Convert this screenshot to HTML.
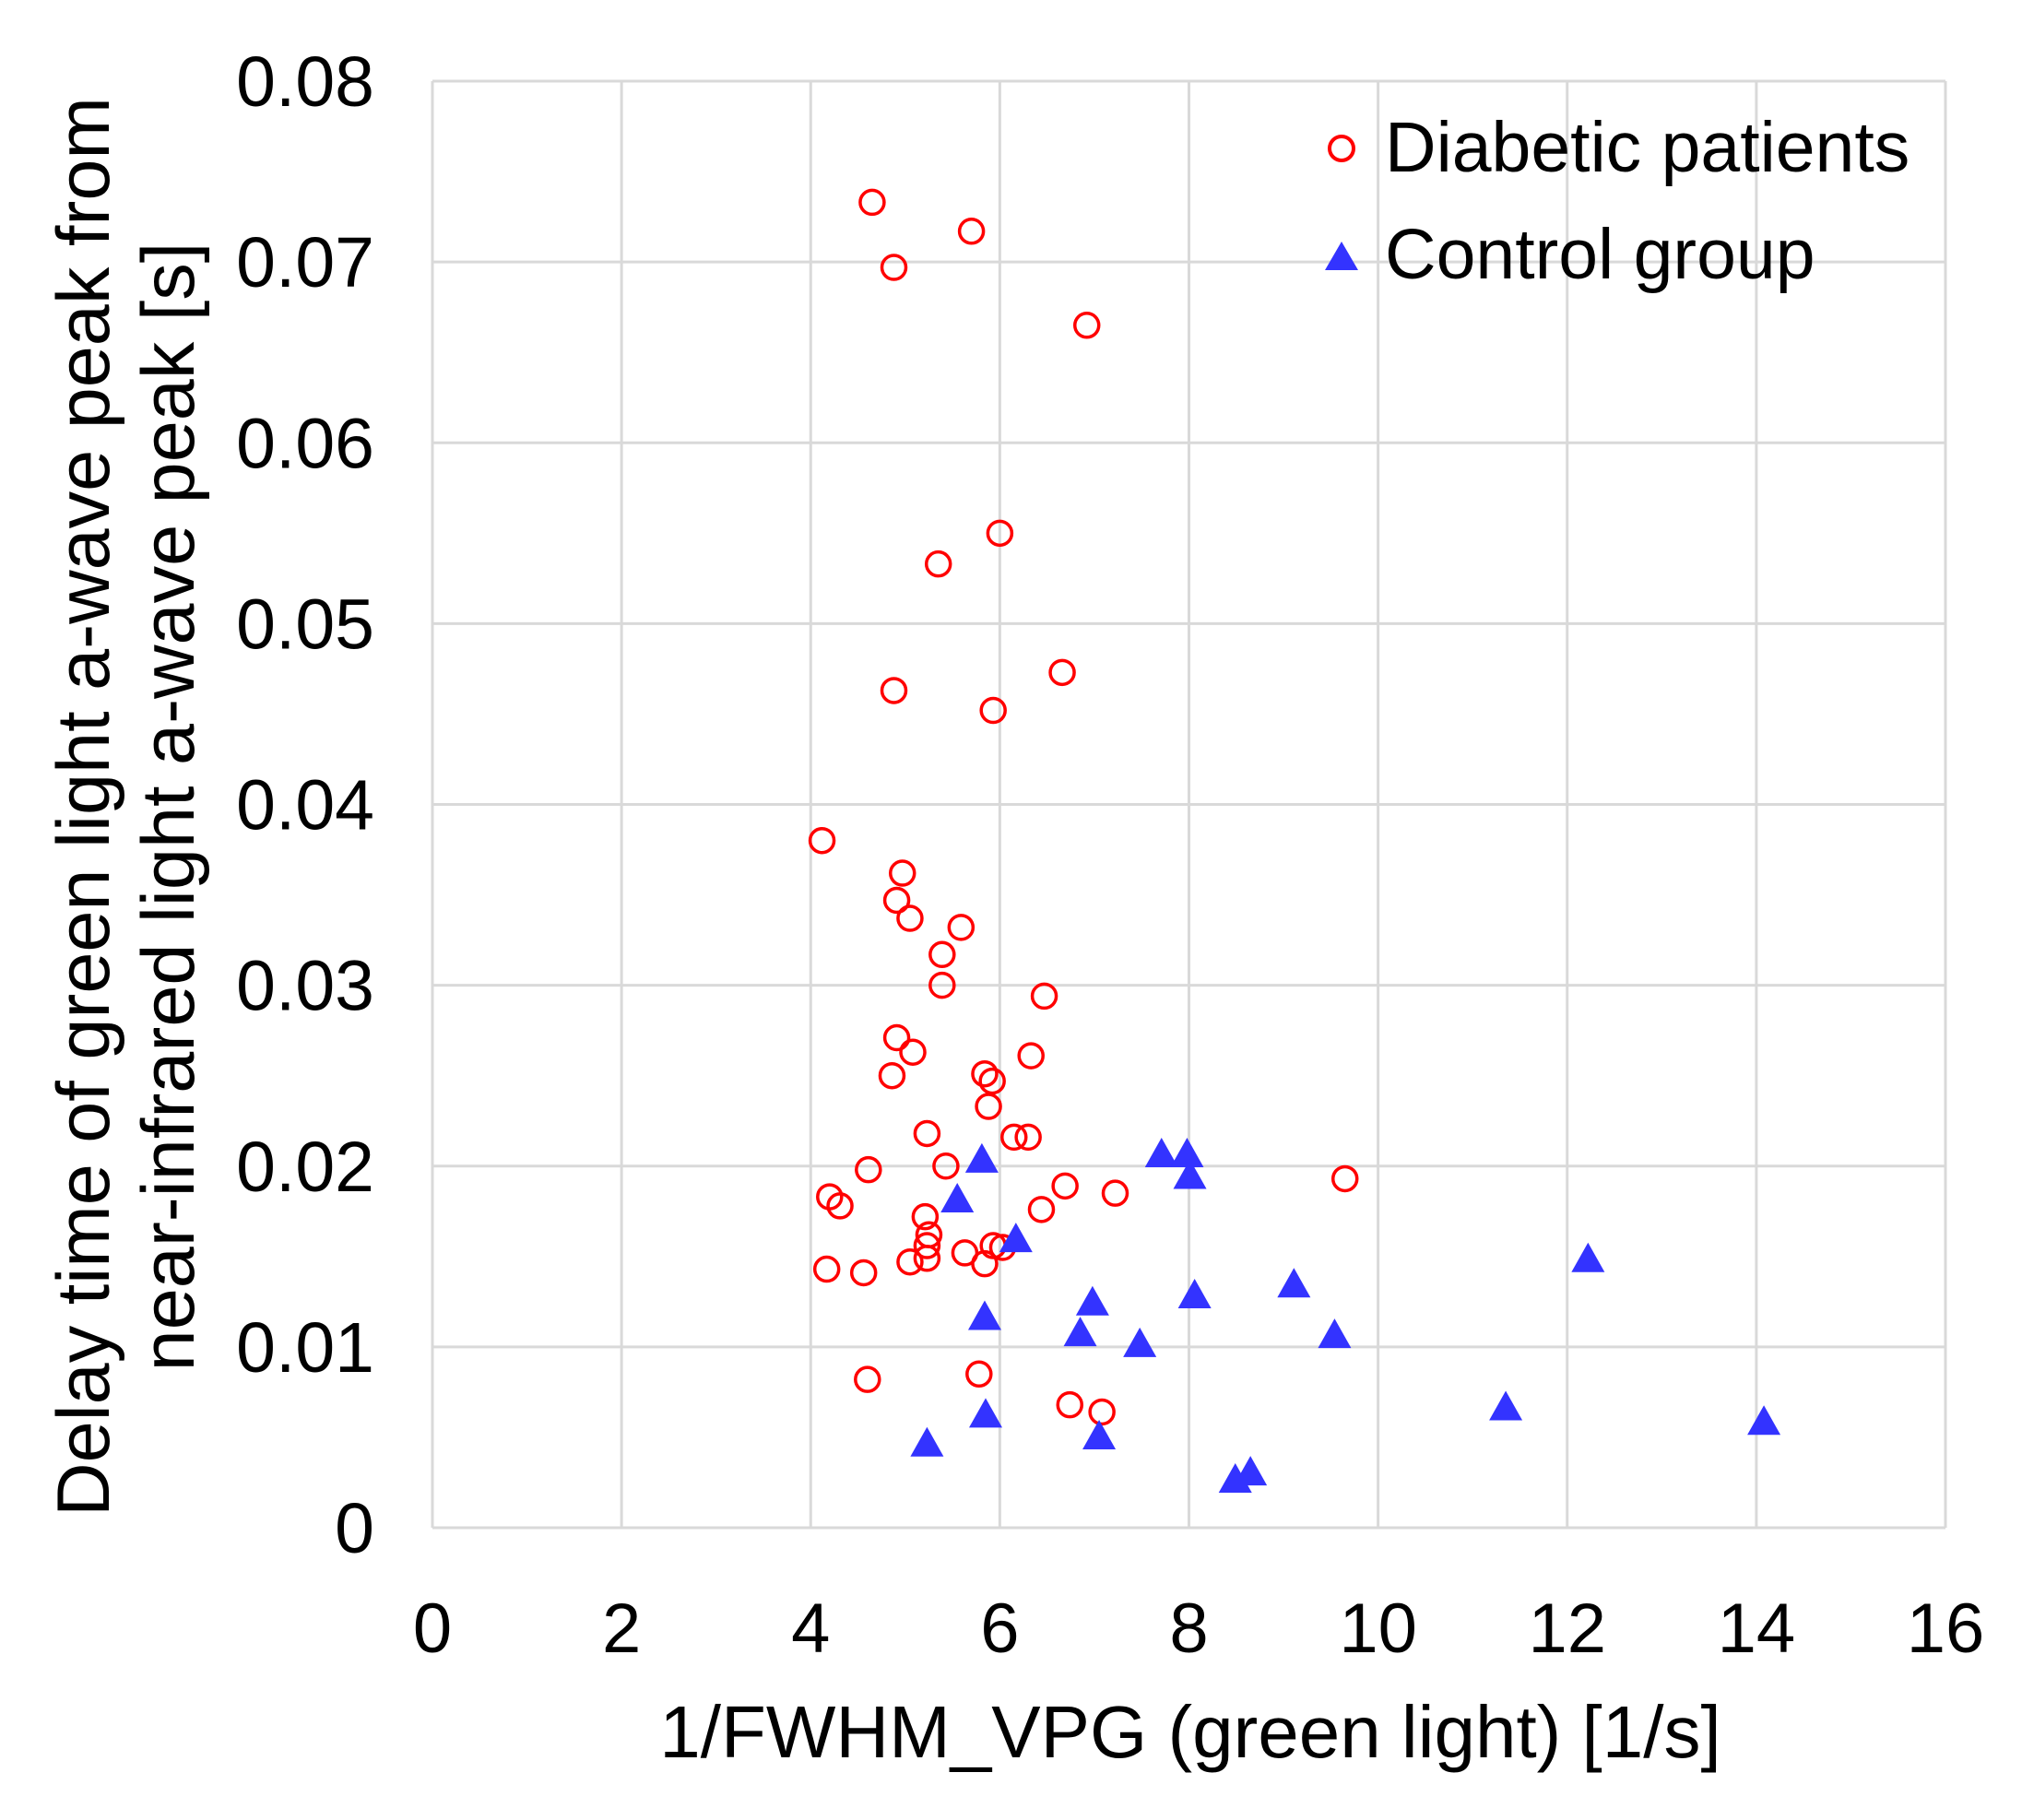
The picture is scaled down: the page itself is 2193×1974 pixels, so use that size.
<!DOCTYPE html>
<html><head><meta charset="utf-8"><style>
html,body{margin:0;padding:0;background:#fff;}
svg text{font-family:"Liberation Sans",Arial,sans-serif;fill:#000;}
</style></head><body>
<svg id="chart" width="2193" height="1969" viewBox="0 0 2193 1969" xmlns="http://www.w3.org/2000/svg">
<g id="grid"></g>
<g id="ticks"></g>
<g id="marks"></g>
<text x="1291" y="1906" font-size="80" text-anchor="middle">1/FWHM_VPG (green light) [1/s]</text>
<text transform="translate(118,875) rotate(-90)" font-size="81" text-anchor="middle">Delay time of green light a-wave peak from</text>
<text transform="translate(210,875) rotate(-90)" font-size="81" text-anchor="middle">near-infrared light a-wave peak [s]</text>
<g>
<circle cx="1455" cy="161" r="13" fill="none" stroke="#ff0000" stroke-width="4"/>
<text x="1502" y="186" font-size="77">Diabetic patients</text>
<polygon points="1455,262 1473,293 1437,293" fill="#3333ff"/>
<text x="1502" y="302" font-size="77">Control group</text>
</g>
</svg>
<script>
const xTicks=[0,2,4,6,8,10,12,14,16];
const yTicks=[0,0.01,0.02,0.03,0.04,0.05,0.06,0.07,0.08];
const yTickLabels=["0","0.01","0.02","0.03","0.04","0.05","0.06","0.07","0.08"];
const diabeticX=[4.65,5.70,4.88,6.92,6.00,5.35,6.66,4.88,5.93,4.12,4.97,4.91,5.05,5.59,5.39,5.39,6.47,4.91,5.08,6.33,4.86,5.84,5.92,5.88,5.23,6.15,6.30,4.61,5.43,9.65,6.69,4.20,7.22,4.31,6.44,5.21,5.25,5.23,5.63,5.93,6.03,5.23,5.05,5.84,4.17,4.56,4.60,5.78,6.74,7.08];
const diabeticY=[0.0733,0.0717,0.0697,0.0665,0.0550,0.0533,0.0473,0.0463,0.0452,0.0380,0.0362,0.0347,0.0337,0.0332,0.0317,0.0300,0.0294,0.0271,0.0263,0.0261,0.0250,0.0251,0.0247,0.0233,0.0218,0.0216,0.0216,0.0198,0.0200,0.0193,0.0189,0.0183,0.0185,0.0178,0.0176,0.0172,0.0162,0.0156,0.0152,0.0156,0.0155,0.0149,0.0147,0.0146,0.0143,0.0141,0.0082,0.0085,0.0068,0.0064];
const controlX=[5.81,7.71,7.98,8.01,5.55,6.17,12.22,9.11,8.06,6.98,5.84,6.85,9.54,7.48,11.35,14.08,5.85,7.05,5.23,8.65,8.49];
const controlY=[0.0203,0.0206,0.0206,0.0194,0.0181,0.0159,0.0148,0.0134,0.0128,0.0124,0.0116,0.0107,0.0106,0.0101,0.0066,0.0058,0.0062,0.0050,0.0046,0.0030,0.0026];

const L=469,R=2110,T=88,B=1657;
const sx=v=>L+(v-0)/(16-0)*(R-L);
const sy=v=>B-(v-0)/(0.08-0)*(B-T);
const NS="http://www.w3.org/2000/svg";
const grid=document.getElementById('grid'),ticks=document.getElementById('ticks'),marks=document.getElementById('marks');
function mk(tag,attrs,parent){const e=document.createElementNS(NS,tag);for(const k in attrs)e.setAttribute(k,attrs[k]);parent.appendChild(e);return e;}
xTicks.forEach(v=>{
  const l=mk('line',{x1:sx(v),x2:sx(v),y1:T,y2:B,stroke:'#d9d9d9','stroke-width':3},grid);
  
  
  const t=mk('text',{x:sx(v),y:1792,'font-size':76,'text-anchor':'middle'},ticks);
  t.textContent=String(v);
  
  
});
yTicks.forEach((v,i)=>{
  const l=mk('line',{x1:L,x2:R,y1:sy(v),y2:sy(v),stroke:'#d9d9d9','stroke-width':3},grid);
  
  
  const t=mk('text',{x:406,y:sy(v)+27,'font-size':77,'text-anchor':'end'},ticks);
  t.textContent=yTickLabels[i];
  
  
});
diabeticX.forEach((x,i)=>{
  const c=mk('circle',{cx:sx(x),cy:sy(diabeticY[i]),r:13,fill:'none',stroke:'#ff0000','stroke-width':3.5},marks);
  
  
});
controlX.forEach((x,i)=>{
  const cx=sx(x),cy=sy(controlY[i]);
  const p=mk('polygon',{points:`${cx},${cy-19} ${cx+18},${cy+13} ${cx-18},${cy+13}`,fill:'#3333ff'},marks);
  
  
});
</script>
</body></html>
